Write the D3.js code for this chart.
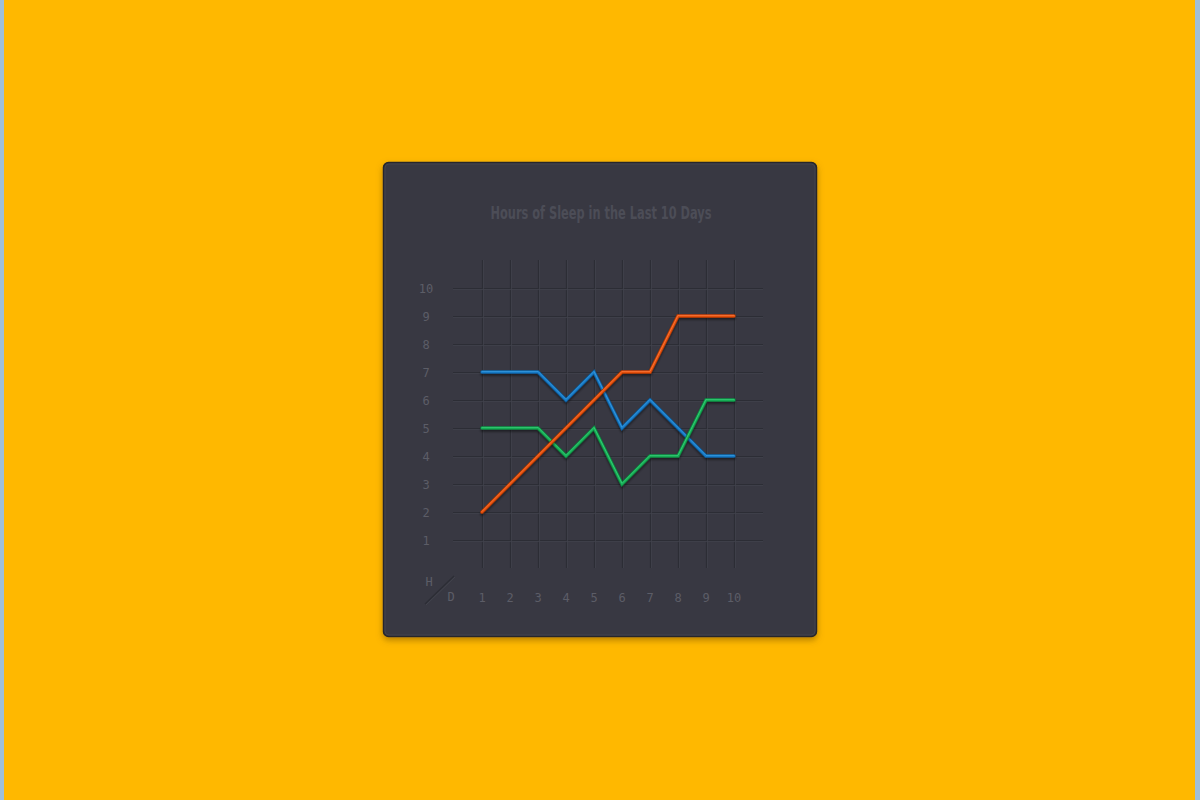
<!DOCTYPE html>
<html>
<head>
<meta charset="utf-8">
<script src="https://cdn.jsdelivr.net/npm/d3@7"></script>
<style>
  html, body { margin: 0; padding: 0; }
  body { width: 1200px; height: 800px; overflow: hidden; background: #9fbfd9; }
</style>
</head>
<body>
<svg id="chart" width="1200" height="800"></svg>
<script>
const days = [1, 2, 3, 4, 5, 6, 7, 8, 9, 10];
const hourTicks = [1, 2, 3, 4, 5, 6, 7, 8, 9, 10];
const orangeHours = [2, 3, 4, 5, 6, 7, 7, 9, 9, 9];
const blueHours   = [7, 7, 7, 6, 7, 5, 6, 5, 4, 4];
const greenHours  = [5, 5, 5, 4, 5, 3, 4, 4, 6, 6];
const seriesNames = ["blue", "green", "orange"];
const seriesColors = { orange: "#e5500f", blue: "#1479c4", green: "#14ad55" };
const seriesEdges  = { orange: "#a63505", blue: "#0c5590", green: "#0b7c3b" };
const seriesLights = { orange: "#f87a3c", blue: "#3c9be0", green: "#3ccb78" };
const seriesData = { orange: orangeHours, blue: blueHours, green: greenHours };

const svg = d3.select("#chart");

const defs = svg.append("defs");
const shadow = defs.append("filter").attr("id", "card-shadow")
    .attr("x", "-10%").attr("y", "-10%").attr("width", "120%").attr("height", "120%");
shadow.append("feDropShadow").attr("dx", 0).attr("dy", 3).attr("stdDeviation", 3)
    .attr("flood-color", "#7a5200").attr("flood-opacity", 0.55);

const lineShadow = defs.append("filter").attr("id", "line-shadow")
    .attr("x", "-10%").attr("y", "-10%").attr("width", "120%").attr("height", "120%");
lineShadow.append("feDropShadow").attr("dx", 0).attr("dy", 2).attr("stdDeviation", 1.2)
    .attr("flood-color", "#000").attr("flood-opacity", 0.45);

// yellow page
svg.append("rect").attr("x", 4).attr("y", 0).attr("width", 1191).attr("height", 800)
    .attr("fill", "#ffb800");

// card
svg.append("rect")
    .attr("x", 383.5).attr("y", 162.5).attr("width", 433).attr("height", 474)
    .attr("rx", 5).attr("fill", "#383943")
    .attr("stroke", "#25262c").attr("stroke-width", 1.5)
    .attr("filter", "url(#card-shadow)");
svg.append("rect")
    .attr("x", 385).attr("y", 164).attr("width", 430).attr("height", 471)
    .attr("rx", 4).attr("fill", "none")
    .attr("stroke", "#42434d").attr("stroke-width", 1);

svg.append("text")
    .attr("x", 601).attr("y", 219)
    .attr("text-anchor", "middle")
    .attr("font-family", "'DejaVu Sans Condensed', 'DejaVu Sans', sans-serif")
    .attr("font-stretch", "condensed")
    .attr("font-weight", "bold")
    .attr("font-size", 18.5)
    .attr("textLength", 221)
    .attr("lengthAdjust", "spacingAndGlyphs")
    .attr("fill", "#4c4d57")
    .text("Hours of Sleep in the Last 10 Days");

const x = d3.scaleLinear().domain([1, 10]).range([482, 734]);
const y = d3.scaleLinear().domain([1, 10]).range([540, 288]);

const grid = svg.append("g");
// vertical grid lines
grid.selectAll("line.v").data(days).enter().append("line")
    .attr("class", "v")
    .attr("x1", d => x(d) + 0.5).attr("x2", d => x(d) + 0.5)
    .attr("y1", y(11)).attr("y2", y(0))
    .attr("stroke", "#2c2d35").attr("stroke-width", 1.2);
// horizontal grid lines
grid.selectAll("line.h").data(hourTicks).enter().append("line")
    .attr("class", "h")
    .attr("x1", x(0) - 1).attr("x2", x(11) + 1)
    .attr("y1", d => y(d) + 0.5).attr("y2", d => y(d) + 0.5)
    .attr("stroke", "#2c2d35").attr("stroke-width", 1.2);
// subtle highlight beside grid lines
grid.selectAll("line.hl").data(hourTicks).enter().append("line")
    .attr("x1", x(0) - 1).attr("x2", x(11) + 1)
    .attr("y1", d => y(d) + 1.6).attr("y2", d => y(d) + 1.6)
    .attr("stroke", "#41424c").attr("stroke-width", 0.8);
grid.selectAll("line.vl").data(days).enter().append("line")
    .attr("x1", d => x(d) + 1.6).attr("x2", d => x(d) + 1.6)
    .attr("y1", y(11)).attr("y2", y(0))
    .attr("stroke", "#41424c").attr("stroke-width", 0.8);

const labelFont = "'DejaVu Sans Mono', 'Liberation Mono', monospace";

svg.append("g").selectAll("text").data(hourTicks).enter().append("text")
    .attr("x", 426).attr("y", d => y(d) + 4.5)
    .attr("text-anchor", "middle")
    .attr("font-family", labelFont).attr("font-size", 12)
    .attr("fill", "#5c5d67")
    .text(d => d);

svg.append("g").selectAll("text").data(days).enter().append("text")
    .attr("x", d => x(d)).attr("y", 601.5)
    .attr("text-anchor", "middle")
    .attr("font-family", labelFont).attr("font-size", 12)
    .attr("fill", "#5c5d67")
    .text(d => d);

svg.append("text").attr("x", 429).attr("y", 586).attr("text-anchor", "middle")
    .attr("font-family", labelFont).attr("font-size", 12).attr("fill", "#5c5d67").text("H");
svg.append("text").attr("x", 451).attr("y", 600.5).attr("text-anchor", "middle")
    .attr("font-family", labelFont).attr("font-size", 12).attr("fill", "#5c5d67").text("D");
svg.append("line").attr("x1", 425).attr("y1", 604).attr("x2", 454).attr("y2", 576)
    .attr("stroke", "#2c2d35").attr("stroke-width", 1.2);
svg.append("line").attr("x1", 426).attr("y1", 605).attr("x2", 455).attr("y2", 577)
    .attr("stroke", "#45464f").attr("stroke-width", 0.8);

const line = d3.line()
    .x((d, i) => x(days[i]))
    .y(d => y(d))
    .curve(d3.curveLinear);

const lines = svg.append("g");
seriesNames.forEach(name => {
    const g = lines.append("g").attr("filter", "url(#line-shadow)");
    g.append("path").datum(seriesData[name])
        .attr("d", line).attr("fill", "none")
        .attr("stroke", seriesEdges[name]).attr("stroke-width", 3.6)
        .attr("stroke-linecap", "round").attr("stroke-linejoin", "miter");
    g.append("path").datum(seriesData[name])
        .attr("d", line).attr("fill", "none")
        .attr("stroke", seriesColors[name]).attr("stroke-width", 2.4)
        .attr("stroke-linecap", "round").attr("stroke-linejoin", "miter");
    g.append("path").datum(seriesData[name])
        .attr("d", line).attr("fill", "none")
        .attr("transform", "translate(0,-0.6)")
        .attr("stroke", seriesLights[name]).attr("stroke-width", 0.8)
        .attr("stroke-linecap", "round").attr("stroke-linejoin", "miter");
});
</script>
</body>
</html>
